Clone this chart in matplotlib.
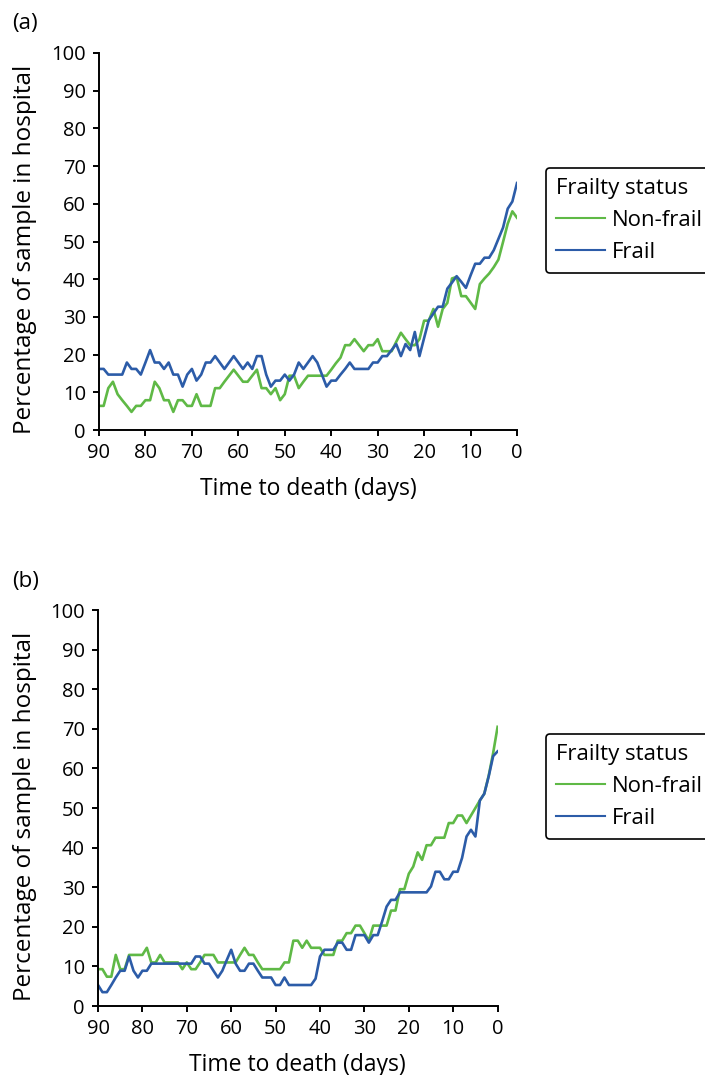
import matplotlib
matplotlib.use("Agg")
import matplotlib.pyplot as plt
import numpy as np

plt.rcParams['font.family'] = ['Open Sans', 'DejaVu Sans']

# days before death, 90 .. 0
days = list(range(90, -1, -1))

# panel (a)
a_nonfrail = [6.4, 6.4, 11.1, 12.8, 9.5, 7.9, 6.4, 4.8, 6.4, 6.4,
              7.9, 7.9, 12.8, 11.1, 7.9, 7.9, 4.8, 7.9, 7.9, 6.4,
              6.4, 9.5, 6.4, 6.4, 6.4, 11.1, 11.1, 12.8, 14.4, 16.0,
              14.4, 12.8, 12.8, 14.4, 16.0, 11.1, 11.1, 9.5, 11.1, 7.9,
              9.5, 14.4, 14.4, 11.1, 12.8, 14.4, 14.4, 14.4, 14.4, 14.4,
              16.0, 17.7, 19.2, 22.5, 22.5, 24.1, 22.5, 20.9, 22.5, 22.5,
              24.1, 20.9, 20.9, 20.9, 23.4, 25.8, 24.1, 22.5, 22.5, 24.1,
              29.0, 29.0, 32.1, 27.4, 32.1, 33.7, 40.2, 40.6, 35.5, 35.5,
              33.8, 32.1, 38.7, 40.2, 41.5, 43.2, 45.2, 49.9, 54.7, 58.0,
              56.3]
a_frail = [16.2, 16.2, 14.7, 14.7, 14.7, 14.7, 17.9, 16.2, 16.2, 14.7,
           17.9, 21.2, 17.9, 17.9, 16.2, 17.9, 14.7, 14.7, 11.5, 14.7,
           16.2, 13.1, 14.7, 17.9, 17.9, 19.6, 17.9, 16.2, 17.9, 19.6,
           17.9, 16.2, 17.9, 16.2, 19.6, 19.6, 14.7, 11.5, 13.1, 13.1,
           14.7, 13.1, 14.7, 17.9, 16.2, 17.9, 19.6, 17.9, 14.7, 11.5,
           13.1, 13.1, 14.7, 16.2, 17.9, 16.2, 16.2, 16.2, 16.2, 17.9,
           17.9, 19.6, 19.6, 21.2, 22.8, 19.6, 22.8, 21.2, 26.0, 19.6,
           24.4, 29.1, 30.9, 32.7, 32.7, 37.5, 39.1, 40.8, 39.3, 37.7,
           41.0, 44.1, 44.1, 45.7, 45.7, 47.7, 50.7, 53.7, 58.7, 60.6,
           65.5]

# panel (b)
b_nonfrail = [9.3, 9.3, 7.4, 7.4, 12.9, 9.3, 9.3, 12.9, 12.9, 12.9,
              12.9, 14.7, 11.0, 11.0, 12.9, 11.0, 11.0, 11.0, 11.0, 9.3,
              11.0, 9.3, 9.3, 11.0, 12.9, 12.9, 12.9, 11.0, 11.0, 11.0,
              11.0, 11.0, 12.9, 14.7, 12.9, 12.9, 11.0, 9.3, 9.3, 9.3,
              9.3, 9.3, 11.0, 11.0, 16.5, 16.5, 14.7, 16.5, 14.7, 14.7,
              14.7, 12.9, 12.9, 12.9, 16.5, 16.5, 18.4, 18.4, 20.3, 20.3,
              18.4, 16.5, 20.3, 20.3, 20.3, 20.3, 24.1, 24.1, 29.5, 29.5,
              33.4, 35.2, 38.8, 36.9, 40.6, 40.6, 42.5, 42.5, 42.5, 46.2,
              46.2, 48.1, 48.1, 46.2, 48.1, 50.0, 51.9, 53.6, 58.2, 63.9,
              70.5]
b_frail = [5.3, 3.5, 3.5, 5.3, 7.2, 8.9, 8.9, 12.5, 8.9, 7.2,
           8.9, 8.9, 10.7, 10.7, 10.7, 10.7, 10.7, 10.7, 10.7, 10.7,
           10.7, 10.7, 12.5, 12.5, 10.7, 10.7, 8.9, 7.2, 8.9, 11.6,
           14.2, 10.7, 8.9, 8.9, 10.7, 10.7, 8.9, 7.2, 7.2, 7.2,
           5.3, 5.3, 7.2, 5.3, 5.3, 5.3, 5.3, 5.3, 5.3, 6.9,
           12.5, 14.2, 14.2, 14.2, 16.0, 16.0, 14.2, 14.2, 17.9, 17.9,
           17.9, 16.0, 17.9, 17.9, 21.4, 25.1, 26.8, 26.8, 28.7, 28.7,
           28.7, 28.7, 28.7, 28.7, 28.7, 30.2, 33.9, 33.9, 32.0, 32.0,
           33.9, 33.9, 37.4, 42.8, 44.5, 42.8, 51.9, 53.6, 58.0, 63.1,
           64.3]

GREEN = '#5fb946'
BLUE = '#2c5ca8'
W, H = 705, 1075

fig = plt.figure(figsize=(W / 100, H / 100), dpi=100)


def panel(box, nonfrail, frail, tag, tag_y, leg_top):
    l, t, r, b = box
    ax = fig.add_axes([l / W, 1 - b / H, (r - l) / W, (b - t) / H])
    ax.plot(days, nonfrail, color=GREEN, lw=1.9, label='Non-frail')
    ax.plot(days, frail, color=BLUE, lw=1.9, label='Frail')
    ax.set_xlim(90, 0)
    ax.set_ylim(0, 100)
    ax.set_xticks(range(90, -1, -10))
    ax.set_yticks(range(0, 101, 10))
    for s in ['top', 'right']:
        ax.spines[s].set_visible(False)
    for s in ['left', 'bottom']:
        ax.spines[s].set_linewidth(1.4)
    ax.tick_params(direction='out', length=4.5, width=1.4, labelsize=14.5)
    ax.tick_params(axis='x', pad=4.5)
    ax.tick_params(axis='y', pad=5)
    fig.text(25 / W, 1 - ((t + b) / 2 + 8) / H, 'Percentage of sample in hospital',
             rotation=90, ha='center', va='center', fontsize=17.5)
    fig.text((l + r) / 2 / W, 1 - (b + 59) / H, 'Time to death (days)',
             ha='center', va='center', fontsize=16.5)
    fig.text(12 / W, 1 - tag_y / H, tag, ha='left', va='center', fontsize=16)
    leg = ax.legend(loc='upper left', bbox_to_anchor=(546 / W, 1 - leg_top / H),
                    bbox_transform=fig.transFigure, title='Frailty status',
                    alignment='left', fontsize=16, title_fontsize=16,
                    frameon=True, fancybox=True, edgecolor='black',
                    framealpha=1, borderaxespad=0, handlelength=2.2,
                    handletextpad=0.3, labelspacing=0.5, borderpad=0.45)
    leg.get_frame().set_linewidth(1.2)
    for ln in leg.get_lines():
        ln.set_linewidth(1.5)
    return ax


panel((99, 53, 517, 430), a_nonfrail, a_frail, '(a)', 24, 168)
panel((98, 610, 497.6, 1006), b_nonfrail, b_frail, '(b)', 582, 734)

fig.savefig('out.png', dpi=100)
